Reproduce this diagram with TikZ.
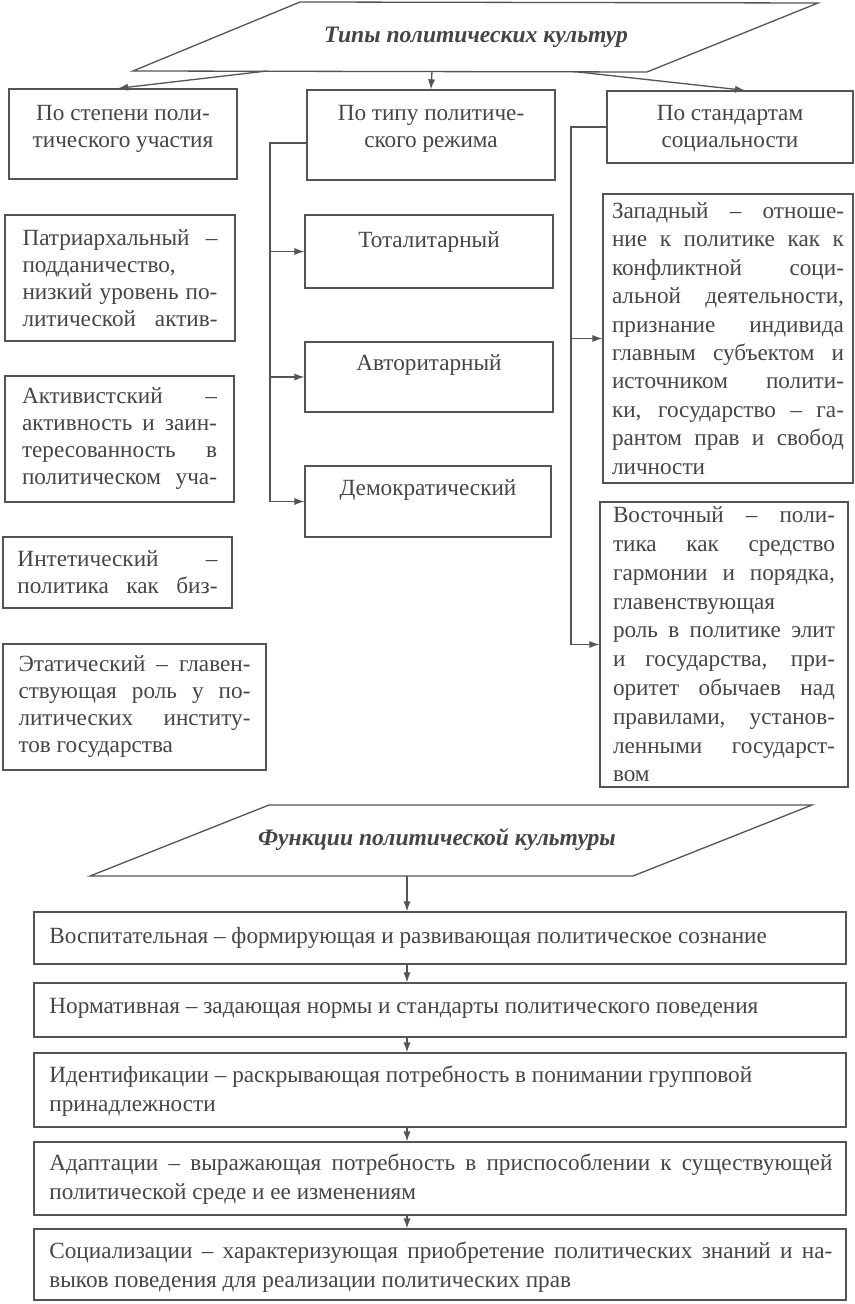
\documentclass[tikz,border=0pt]{standalone}
\usepackage{fontspec}
\setmainfont{Liberation Serif}
\usetikzlibrary{arrows.meta,fit,calc}
\newdimen\pxu \pxu=0.5pt
\definecolor{ink}{rgb}{0.27,0.27,0.27}
\definecolor{lin}{rgb}{0.33,0.33,0.33}
\newcommand\jline[1]{\hbox to \hsize{\spaceskip=.25em plus 1fil\relax #1}}
\newcommand\lline[1]{\hbox{#1}}
\newcommand\lines[2]{\vbox{\hsize=#1\relax #2}}
\begin{document}
\begin{tikzpicture}[x=0.5pt,y=-0.5pt,
  line/.style={draw=lin, line width=0.65pt},
  box/.style={line, rectangle, inner sep=0pt},
  arr/.style={line, -{Latex[length=5pt,width=3.6pt]}},
  txt/.style={text=ink, inner sep=0pt, font=\fontsize{11.6}{13.5}\selectfont},
  rtxt/.style={text=ink, inner sep=0pt, font=\fontsize{11.6}{14.2}\selectfont},
  btxt/.style={text=ink, inner sep=0pt, font=\fontsize{11.6}{14.3}\selectfont, anchor=west},
  ttl/.style={text=ink, inner sep=0pt, font=\fontsize{11.8}{14}\selectfont\bfseries\itshape}]
\fill[white] (0,0) rectangle (855,1304);
\useasboundingbox (0,0) rectangle (855,1304);
% ---------- top parallelogram ----------
\coordinate (ptl) at (300,2);
\coordinate (ptr) at (818,3);
\coordinate (pbr) at (647,72);
\coordinate (pbl) at (133,71);
\draw[line] (ptl) -- (ptr) -- (pbr) -- (pbl) -- cycle;
\node[ttl] (title1) at (476,37) {Типы политических культур};
\coordinate (a1) at (267,71);
\coordinate (a2) at (432,71);
\coordinate (a3) at (578,72);
% ---------- level 1 ----------
\node[box, fit={(9,89)(237,179)}] (k1) {};
\node[box, fit={(307,90)(555,180)}] (k2) {};
\node[box, fit={(607,91)(853,163)}] (k3) {};
\node[txt, align=center] (k1t) at (123,128.5) {По степени поли-\\тического участия};
\node[txt, align=center] (k2t) at (431,128.5) {По типу политиче-\\ского режима};
\node[txt, align=center] (k3t) at (730,129) {По стандартам\\социальности};
\draw[arr] (a1) -- ($(k1.north)+(-5,0)$);
\draw[arr] (a2) -- (k2.north);
\draw[arr] (a3) -- ($(k3.north)+(15,0)$);
% ---------- left column ----------
\node[box, fit={(5,215)(235,341)}] (patr) {};
\node[txt] at (patr.center) {\lines{195\pxu}{%
\jline{Патриархальный –}\lline{подданичество,}\jline{низкий уровень по-}\jline{литической актив-}}};
\node[box, fit={(5,376)(234,502)}] (akt) {};
\node[txt] at (akt.center) {\lines{195\pxu}{%
\jline{Активистский –}\jline{активность и заин-}\jline{тересованность в}\jline{политическом уча-}}};
\node[box, fit={(3,537)(232,608)}] (int) {};
\node[txt] at (int.center) {\lines{200\pxu}{%
\jline{Интетический –}\jline{политика как биз-}}};
\node[box, fit={(3,644)(266,770)}] (etat) {};
\node[txt] at (etat.center) {\lines{232\pxu}{%
\jline{Этатический – главен-}\jline{ствующая роль у по-}\jline{литических институ-}\lline{тов государства}}};
% ---------- middle column ----------
\node[box, fit={(305,215)(553,288)}] (tot) {};
\node[box, fit={(305,342)(553,412)}] (avt) {};
\node[box, fit={(305,466)(551,537)}] (dem) {};
\node[txt] at (429,242) {Тоталитарный};
\node[txt] at (429,365) {Авторитарный};
\node[txt] at (428,490) {Демократический};
\coordinate (j2) at (270,143);
\draw[line] (j2 -| k2.west) -- (j2) -- (j2 |- dem.west);
\draw[arr] (j2 |- tot.west) -- (tot.west);
\draw[arr] (j2 |- avt.west) -- (avt.west);
\draw[arr] (j2 |- dem.west) -- (dem.west);
% ---------- right column ----------
\node[box, fit={(603,194)(853,483)}] (zap) {};
\node[rtxt] at (zap.center) {\lines{232\pxu}{%
\jline{Западный – отноше-}\jline{ние к политике как к}\jline{конфликтной соци-}\jline{альной деятельности,}\jline{признание индивида}\jline{главным субъектом и}\jline{источником полити-}\jline{ки, государство – га-}\jline{рантом прав и свобод}\lline{личности}}};
\node[box, fit={(600,502)(848,787)}] (vost) {};
\node[rtxt, font=\fontsize{11.6}{14.4}\selectfont] at (vost.center) {\lines{222\pxu}{%
\jline{Восточный – поли-}\jline{тика как средство}\jline{гармонии и порядка,}\lline{главенствующая}\jline{роль в политике элит}\jline{и государства, при-}\jline{оритет обычаев над}\jline{правилами, установ-}\jline{ленными государст-}\lline{вом}}};
\coordinate (j3) at (571,127);
\draw[line] (k3.west) -- (j3) -- (j3 |- vost.west);
\draw[arr] (j3 |- zap.west) -- (zap.west);
\draw[arr] (j3 |- vost.west) -- (vost.west);
% ---------- bottom parallelogram ----------
\coordinate (qtl) at (269,805);
\coordinate (qtr) at (812,805);
\coordinate (qbr) at (633,876);
\coordinate (qbl) at (90,876);
\draw[line] (qtl) -- (qtr) -- (qbr) -- (qbl) -- cycle;
\node[ttl] (title2) at (437,840) {Функции политической культуры};
\coordinate (q0) at (407,876);
% ---------- function boxes ----------
\node[box, fit={(34,912)(846,964)}] (f1) {};
\node[box, fit={(34,983)(846,1037)}] (f2) {};
\node[box, fit={(34,1053)(846,1127)}] (f3) {};
\node[box, fit={(34,1142)(846,1215)}] (f4) {};
\node[box, fit={(34,1229)(846,1300)}] (f5) {};
\node[btxt] at (49,938) {Воспитательная – формирующая и развивающая политическое сознание};
\node[btxt] at (49,1008) {Нормативная – задающая нормы и стандарты политического поведения};
\node[btxt] at (49,1091) {\lines{783\pxu}{\lline{Идентификации – раскрывающая потребность в понимании групповой}\lline{принадлежности}}};
\node[btxt] at (49,1179) {\lines{783\pxu}{\jline{Адаптации – выражающая потребность в приспособлении к существующей}\lline{политической среде и ее изменениям}}};
\node[btxt] at (49,1267) {\lines{783\pxu}{\jline{Социализации – характеризующая приобретение политических знаний и на-}\lline{выков поведения для реализации политических прав}}};
\draw[arr] (q0) -- (q0 |- f1.north);
\draw[arr] (q0 |- f1.south) -- (q0 |- f2.north);
\draw[arr] (q0 |- f2.south) -- (q0 |- f3.north);
\draw[arr] (q0 |- f3.south) -- (q0 |- f4.north);
\draw[arr] (q0 |- f4.south) -- (q0 |- f5.north);
\end{tikzpicture}
\end{document}
